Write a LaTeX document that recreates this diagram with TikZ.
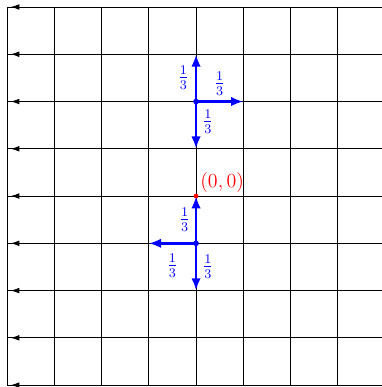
\documentclass[tikz,border=0pt]{standalone}
\usetikzlibrary{arrows.meta}
\begin{document}
\begin{tikzpicture}[
  gridline/.style={black, line width=0.5pt},
  leftmark/.style={-{Latex[length=1.8mm,width=1.2mm]}, black, line width=0.5pt},
  move/.style={blue, line width=1.5pt, -{Latex[length=2.6mm,width=2mm]}},
  frac/.style={blue, inner sep=1pt, font=\large},
]
\useasboundingbox (-4.148,-4.04) rectangle (3.93,4.148);
% grid
\foreach \x in {-4,...,3} \draw[gridline] (\x,4) -- (\x,-4);
\foreach \y in {-4,...,4} {
  \draw[gridline] (-4,\y) -- (3.93,\y);
  \coordinate (s\y) at (-3.6,\y);
  \coordinate (e\y) at (-3.92,\y);
  \draw[leftmark] (s\y) -- (e\y);
}
% upper move
\coordinate (A) at (0,2);
\coordinate (Au) at (0,3);
\coordinate (Ar) at (1,2);
\coordinate (Ad) at (0,1);
\draw[move] (A) -- (Au);
\draw[move] (A) -- (Ar);
\draw[move] (A) -- (Ad);
\fill[blue] (A) circle (0.06);
\node[frac] (a1) at (-0.27,2.5) {$\frac{1}{3}$};
\node[frac] (a2) at (0.5,2.37) {$\frac{1}{3}$};
\node[frac] (a3) at (0.25,1.57) {$\frac{1}{3}$};
% lower move
\coordinate (B) at (0,-1);
\coordinate (Bu) at (0,0);
\coordinate (Bl) at (-1,-1);
\coordinate (Bd) at (0,-2);
\draw[move] (B) -- (Bu);
\draw[move] (B) -- (Bl);
\draw[move] (B) -- (Bd);
\fill[blue] (B) circle (0.06);
\node[frac] (b1) at (-0.24,-0.5) {$\frac{1}{3}$};
\node[frac] (b2) at (-0.5,-1.47) {$\frac{1}{3}$};
\node[frac] (b3) at (0.25,-1.5) {$\frac{1}{3}$};
% origin
\fill[red] (0,0) circle (0.05);
\node[red, anchor=south west, inner sep=1pt, font=\large] (o) at (0.05,0.03) {$(0,0)$};
\end{tikzpicture}
\end{document}
